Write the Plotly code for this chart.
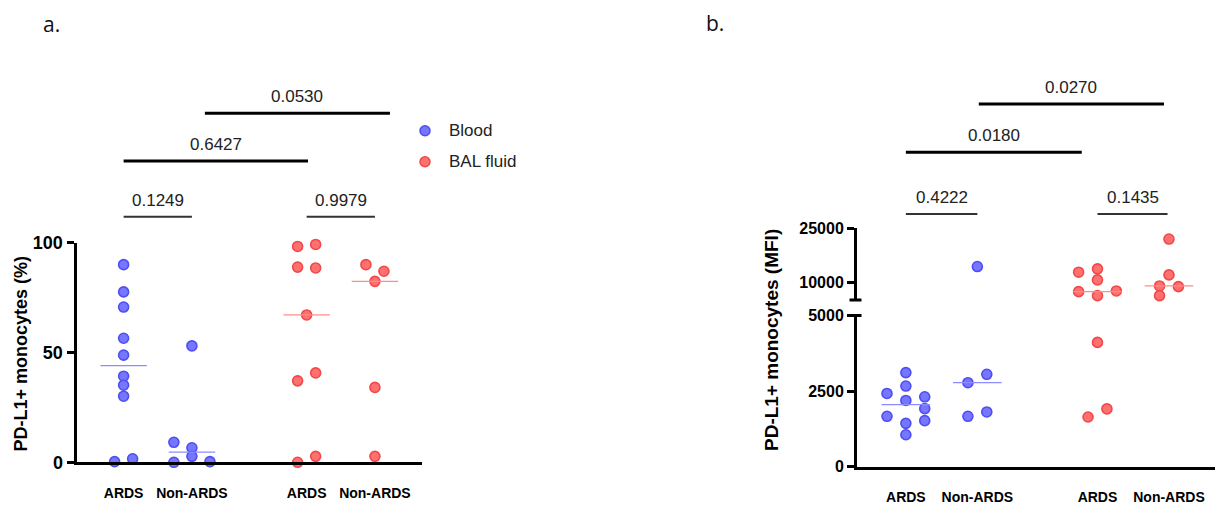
import plotly.graph_objects as go
import numpy as np

W, H = 1215, 505

# ---------------- data ----------------
categories = ["ARDS", "Non-ARDS", "ARDS", "Non-ARDS"]
series_names = ["Blood", "BAL fluid"]
group_series = [0, 0, 1, 1]  # which series (Blood / BAL fluid) each group belongs to

# Panel a: PD-L1+ monocytes (%)
a_blood_ards = [90.0, 77.6, 70.7, 56.5, 48.8, 39.2, 35.1, 30.1, 0.3, 1.6]
a_blood_non = [53.0, 9.1, 6.6, 2.7, 0.0, 0.3]
a_bal_ards = [98.3, 99.2, 88.9, 88.5, 67.1, 37.1, 40.7, 0.0, 2.7]
a_bal_non = [90.0, 87.0, 82.4, 34.1, 2.7]
# dot-plot column index of each point (beeswarm arrangement)
a_cols = [[0, 0, 0, 0, 0, 0, 0, 0, -1, 1],
          [0, -2, 0, 0, -2, 2],
          [-1, 1, -1, 1, 0, -1, 1, -1, 1],
          [-1, 1, 0, 0, 0]]

# Panel b: PD-L1+ monocytes (MFI)
b_blood_ards = [2423, 3111, 2667, 2190, 2312, 1667, 1922, 1433, 1522, 1056]
b_blood_non = [14290, 2778, 3056, 1667, 1811]
b_bal_ards = [12727, 13647, 10579, 7324, 7511, 6209, 4111, 1911, 1644]
b_bal_non = [21930, 11974, 8905, 8719, 6209]
b_cols = [[-2, 0, 0, 0, 2, -2, 2, 0, 2, 0],
          [0, -1, 1, -1, 1],
          [-2, 0, 0, -2, 2, 0, 0, 1, -1],
          [0, 0, -1, 1, -1]]

a_ticks = [0, 50, 100]
b_low_ticks = [0, 2500, 5000]
b_high_ticks = [10000, 25000]
b_break = 5000

a_pvals = ["0.1249", "0.9979", "0.6427", "0.0530"]
b_pvals = ["0.4222", "0.1435", "0.0180", "0.0270"]

# ---------------- styling / layout constants ----------------
GROUP_X = [1.0, 2.0, 3.68, 4.68]
COL_STEP = 0.132
MED_HALF = 0.34
FILL = ["rgb(118,118,255)", "rgb(255,112,112)"]
EDGE = ["rgb(78,78,242)", "rgb(242,72,72)"]
MED_COL = ["rgb(140,140,255)", "rgb(255,140,140)"]
FONT = "Liberation Sans, Arial, sans-serif"


def py(p):
    return 1 - p / H


def px(p):
    return p / W


fig = go.Figure()


def add_points(values, cols, gi, xa, ya_of):
    s = group_series[gi]
    xs = [GROUP_X[gi] + c * COL_STEP for c in cols]
    buckets = {}
    for x, v in zip(xs, values):
        buckets.setdefault(ya_of(v), ([], []))
        buckets[ya_of(v)][0].append(x)
        buckets[ya_of(v)][1].append(v)
    for ya, (bx, bv) in buckets.items():
        fig.add_trace(go.Scatter(
            x=bx, y=bv, xaxis=xa, yaxis=ya, mode="markers", cliponaxis=False,
            name=series_names[s], showlegend=False,
            marker=dict(size=10, color=FILL[s], line=dict(color=EDGE[s], width=1.6)),
        ))
    m = float(np.median(values))
    fig.add_trace(go.Scatter(
        x=[GROUP_X[gi] - MED_HALF, GROUP_X[gi] + MED_HALF], y=[m, m],
        xaxis=xa, yaxis=ya_of(m), mode="lines", showlegend=False, hoverinfo="skip",
        line=dict(color=MED_COL[s], width=1.3),
    ))


a_groups = [a_blood_ards, a_blood_non, a_bal_ards, a_bal_non]
b_groups = [b_blood_ards, b_blood_non, b_bal_ards, b_bal_non]
for gi, vals in enumerate(a_groups):
    add_points(vals, a_cols[gi], gi, "x", lambda v: "y")
for gi, vals in enumerate(b_groups):
    add_points(vals, b_cols[gi], gi, "x2", lambda v: "y2" if v <= b_break else "y3")

axis_common = dict(showgrid=False, zeroline=False, showline=True, linewidth=3,
                   linecolor="black", automargin=False)

fig.update_layout(
    width=W, height=H, margin=dict(l=0, r=0, t=0, b=0),
    paper_bgcolor="white", plot_bgcolor="white", showlegend=False,
    font=dict(family=FONT, color="black"),
    xaxis=dict(domain=[px(76.5), px(421.7)], range=[0.31, 5.365], anchor="y",
               tickvals=GROUP_X, ticktext=categories, ticks="",
               tickfont=dict(size=14, weight="bold", family=FONT),
               ticklabelstandoff=16, **axis_common),
    yaxis=dict(domain=[py(462.3), py(242.7)], range=[0, 100], anchor="x",
               tickvals=a_ticks, ticktext=[str(t) for t in a_ticks],
               ticks="outside", ticklen=7, tickwidth=3, tickcolor="black",
               tickfont=dict(size=18, weight="bold", family=FONT), **axis_common),
    xaxis2=dict(domain=[px(857), 1.0], range=[0.3166, 5.3236], anchor="y2",
                tickvals=GROUP_X, ticktext=categories, ticks="",
                tickfont=dict(size=14, weight="bold", family=FONT),
                ticklabelstandoff=15, **axis_common),
    yaxis2=dict(domain=[py(466.7), py(315.5)], range=[0, b_break], anchor="x2",
                tickvals=b_low_ticks, ticktext=[str(t) for t in b_low_ticks],
                ticks="outside", ticklen=7, tickwidth=3, tickcolor="black",
                tickfont=dict(size=16, weight="bold", family=FONT), **axis_common),
    yaxis3=dict(domain=[py(300), py(228)], range=[b_break, 25000], anchor="x2",
                tickvals=b_high_ticks, ticktext=[str(t) for t in b_high_ticks],
                ticks="outside", ticklen=7, tickwidth=3, tickcolor="black",
                tickfont=dict(size=16, weight="bold", family=FONT), **axis_common),
)

shapes = []
annotations = []

# axis-break caps on panel b
for yp in (300, 315.5):
    shapes.append(dict(type="line", xref="paper", yref="paper",
                       x0=px(849.5), x1=px(861.5), y0=py(yp), y1=py(yp),
                       line=dict(color="black", width=3)))

# significance brackets: (x0, x1, pixel y, thick?)
a_brackets = [(1.0, 2.0, 216.7, False), (3.68, 4.68, 216.7, False),
              (1.0, 3.70, 161.0, True), (2.19, 4.90, 113.3, True)]
b_brackets = [(1.0, 2.0, 214.0, False), (3.68, 4.66, 214.0, False),
              (1.0, 3.46, 152.3, True), (2.02, 4.61, 104.0, True)]
for xref, brs, labels in (("x", a_brackets, a_pvals), ("x2", b_brackets, b_pvals)):
    for (x0, x1, yp, thick), lab in zip(brs, labels):
        shapes.append(dict(type="line", xref=xref, yref="paper", x0=x0, x1=x1,
                           y0=py(yp), y1=py(yp),
                           line=dict(color="black" if thick else "#333333",
                                     width=3 if thick else 2)))
        annotations.append(dict(xref=xref, yref="paper", x=(x0 + x1) / 2,
                                y=py(yp - 16.5), text=lab, showarrow=False,
                                xanchor="center", yanchor="middle",
                                font=dict(size=17, color="#222222", family=FONT)))

# legend
for s, (ly, name) in enumerate(zip((130.7, 161.7), series_names)):
    shapes.append(dict(type="circle", xref="paper", yref="paper",
                       xsizemode="pixel", ysizemode="pixel",
                       xanchor=px(425), yanchor=py(ly), x0=-5, x1=5, y0=-5, y1=5,
                       fillcolor=FILL[s], line=dict(color=EDGE[s], width=1.5)))
    annotations.append(dict(xref="paper", yref="paper", x=px(447), y=py(ly),
                            text=name, showarrow=False, xanchor="left",
                            yanchor="middle",
                            font=dict(size=17, color="#222222", family=FONT)))

# axis titles
annotations.append(dict(xref="paper", yref="paper", x=px(20.5), y=py(354),
                        text="<b>PD-L1+ monocytes (%)</b>", textangle=-90,
                        showarrow=False, xanchor="center", yanchor="middle",
                        font=dict(size=18, family=FONT)))
annotations.append(dict(xref="paper", yref="paper", x=px(771), y=py(340),
                        text="<b>PD-L1+ monocytes (MFI)</b>", textangle=-90,
                        showarrow=False, xanchor="center", yanchor="middle",
                        font=dict(size=19, family=FONT)))

# panel letters
annotations.append(dict(xref="paper", yref="paper", x=px(51), y=py(24), text="a.",
                        showarrow=False, xanchor="center", yanchor="middle",
                        font=dict(size=21, family="Open Sans, sans-serif", color="#111")))
annotations.append(dict(xref="paper", yref="paper", x=px(715), y=py(23), text="b.",
                        showarrow=False, xanchor="center", yanchor="middle",
                        font=dict(size=21, family="Open Sans, sans-serif", color="#111")))

fig.update_layout(shapes=shapes, annotations=annotations)

fig.write_html("out.html", config={"displayModeBar": False},
               post_script="document.body.style.margin='0';document.body.style.overflow='hidden';")
